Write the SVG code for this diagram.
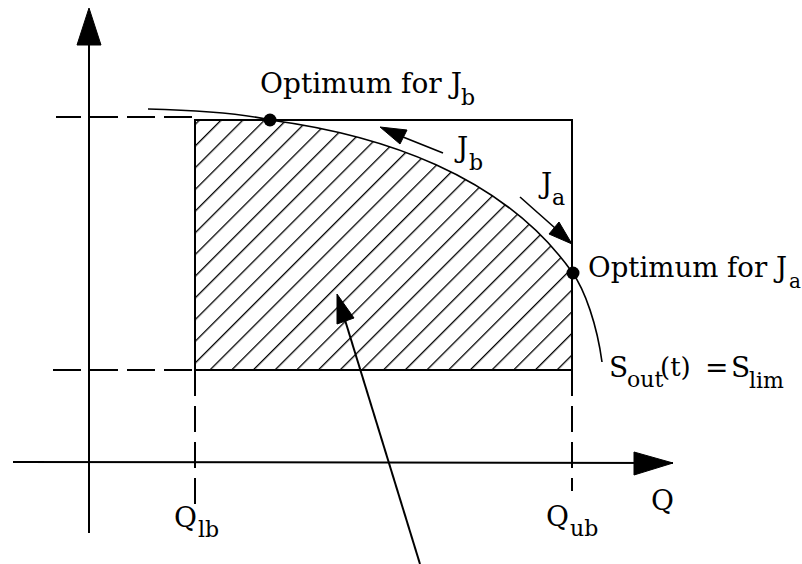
<svg xmlns="http://www.w3.org/2000/svg" width="802" height="564" viewBox="0 0 802 564">
  <style>
    .ln { stroke: #000; stroke-width: 2; fill: none; }
    .dash { stroke: #000; stroke-width: 2; fill: none; stroke-dasharray: 28 9; }
    .vdash { stroke: #000; stroke-width: 2; fill: none; stroke-dasharray: 26 10; }
    .thin { stroke: #000; stroke-width: 1.6; fill: none; }
    .head { fill: #000; stroke: #000; stroke-width: 1; stroke-linejoin: round; }
    text { font-family: "DejaVu Serif", "Liberation Serif", serif; fill: #000; }
    .t { font-size: 28px; }
    .s { font-size: 22px; }
  </style>
  <defs>
    <pattern id="hatch" patternUnits="userSpaceOnUse" width="15.34" height="20" patternTransform="rotate(45)">
      <line x1="11.2" y1="-1" x2="11.2" y2="21" stroke="#000" stroke-width="1.3"/>
    </pattern>
  </defs>

  <rect width="802" height="564" fill="#fff"/>

  <g id="region">
    <path d="M195,120 L270,120 C380,134.7 502,174 572,272 L572,370 L195,370 Z" fill="url(#hatch)" stroke="none"/>
    <path class="ln" d="M195,370 L195,120 L572,120 L572,370 Z"/>
  </g>

  <g id="bounds">
    <line class="dash" x1="192" y1="117" x2="56" y2="117"/>
    <line class="dash" x1="192" y1="370" x2="53" y2="370"/>
    <line class="vdash" x1="195" y1="370" x2="195" y2="507"/>
    <line class="vdash" x1="572" y1="370" x2="572" y2="491"/>
  </g>

  <g id="axes">
    <line class="ln" x1="89" y1="40" x2="89" y2="533"/>
    <polygon class="head" points="89,8 101,45 77,45"/>
    <line class="ln" x1="13" y1="462" x2="673" y2="463"/>
    <polygon class="head" points="673,463 634,452 634,475"/>
  </g>

  <g id="curve">
    <path class="thin" d="M148,109 C190,110 240,113 270,120 C380,134.7 502,174 572,272 C585,290 597,325 602,362"/>
  </g>

  <g id="optimum-b">
    <circle cx="270" cy="120" r="6.5" fill="#000"/>
    <text class="t" x="260" y="93">Optimum for J</text>
    <text class="s" x="461" y="105">b</text>
  </g>

  <g id="optimum-a">
    <circle cx="573" cy="273" r="6.5" fill="#000"/>
    <text class="t" x="588" y="277" textLength="199" lengthAdjust="spacingAndGlyphs">Optimum for J</text>
    <text x="789" y="288" font-size="20">a</text>
  </g>

  <g id="label-jb">
    <text class="t" x="457" y="157">J</text>
    <text class="s" x="469" y="170">b</text>
  </g>

  <g id="label-ja">
    <text class="t" x="541" y="193">J</text>
    <text class="s" x="552" y="205">a</text>
  </g>

  <g id="label-limit">
    <text class="t" x="609" y="377">S</text>
    <text class="s" x="627" y="387">out</text>
    <text x="660" y="376" font-size="26">(t)</text>
    <text class="t" x="705" y="377">=</text>
    <text class="t" x="731" y="377">S</text>
    <text class="s" x="749" y="388">lim</text>
  </g>

  <g id="label-qlb">
    <text class="t" x="174" y="527">Q</text>
    <text class="s" x="198" y="537">lb</text>
  </g>

  <g id="label-qub">
    <text class="t" x="546" y="526">Q</text>
    <text class="s" x="570" y="536">ub</text>
  </g>

  <g id="label-q">
    <text class="t" x="651" y="510">Q</text>
  </g>

  <g id="connectors">
    <line class="thin" x1="443" y1="153" x2="403" y2="137"/>
    <polygon class="head" points="380,127 407,130 400,144"/>
    <line class="thin" x1="520" y1="197" x2="555" y2="228"/>
    <polygon class="head" points="572,244 549,234 559,222"/>
    <line class="ln" x1="420" y1="564" x2="345" y2="320"/>
    <polygon class="head" points="337,294 354,318 337,324"/>
  </g>
</svg>
